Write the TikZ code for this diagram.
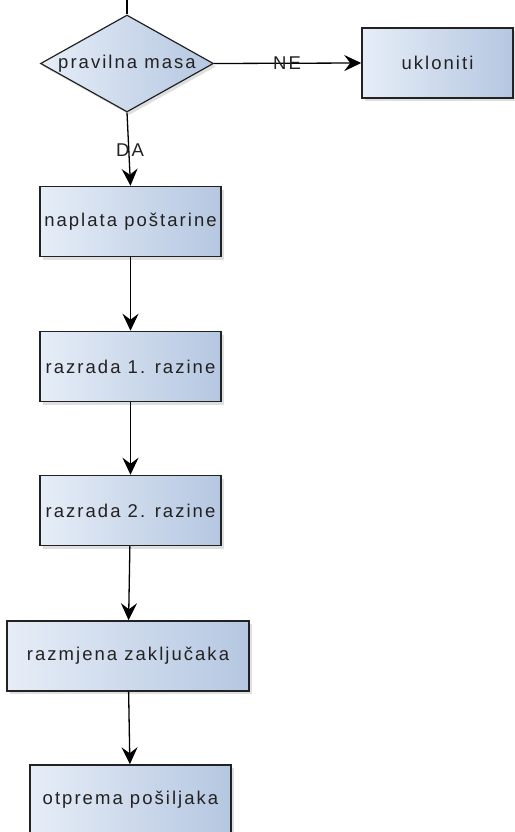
\documentclass[tikz,border=0pt]{standalone}
\usepackage{fontspec}
\newfontfamily\flowfont[LetterSpace=11]{Liberation Sans}
\usetikzlibrary{shapes.geometric,arrows.meta,shadows}
\definecolor{rubtamni}{HTML}{222222}
\definecolor{plavosvj}{HTML}{E6EDF7}
\definecolor{plavotam}{HTML}{B5C7E1}
\tikzset{
	proces/.style={draw=rubtamni, line width=1.5pt, left color=plavosvj, right color=plavotam,
		minimum height=70pt, inner sep=0pt, text=rubtamni,
		drop shadow={opacity=0.25, shadow xshift=2.5pt, shadow yshift=-3pt}},
	odluka/.style={diamond, draw=rubtamni, line width=1.2pt, left color=plavosvj, right color=plavotam,
		minimum width=173pt, minimum height=97pt, inner sep=0pt,
		drop shadow={opacity=0.25, shadow xshift=2.5pt, shadow yshift=-3pt}},
	tok/.style={line width=1.3pt, black, -{Stealth[length=17pt, width=16pt, inset=6pt]}},
	natpis/.style={text=rubtamni}
}
\begin{document}
\begin{tikzpicture}[x=1pt, y=-1pt, font=\flowfont\fontsize{18.5}{22}\selectfont]
		\useasboundingbox (0,0) rectangle (514,832);
		\coordinate (ulaz) at (127,0);

		\node[odluka] (masa) at (127,63.5) {};
		\node[natpis] (masatxt) at (masa.center) {pravilna masa};
		\node[proces, minimum width=151pt] (ukloniti) at (437.5,63) {ukloniti};
		\node[proces, minimum width=181pt] (naplata) at (130.5,221.5) {naplata poštarine};
		\node[proces, minimum width=181pt] (razrada1) at (130.5,366.5) {razrada 1. razine};
		\node[proces, minimum width=181pt] (razrada2) at (130.5,510.5) {razrada 2. razine};
		\node[proces, minimum width=242pt] (razmjena) at (128,656) {razmjena zaključaka};
		\node[proces, minimum width=201pt] (otprema) at (130.5,800) {otprema pošiljaka};

		\draw[line width=1.1pt] (ulaz) -- (masa.north);
		\draw[tok] (masa.east) -- (ukloniti.west);
		\draw[tok] (masa.south) -- (naplata.north);
		\draw[tok] (naplata) -- (razrada1);
		\draw[tok] (razrada1) -- (razrada2);
		\draw[tok] (razrada2) -- (razmjena);
		\draw[tok] (razmjena) -- (otprema);

		\node[natpis] (ne) at (287,63) {NE};
		\node[natpis] (da) at (130,150) {DA};
	\end{tikzpicture}
\end{document}
